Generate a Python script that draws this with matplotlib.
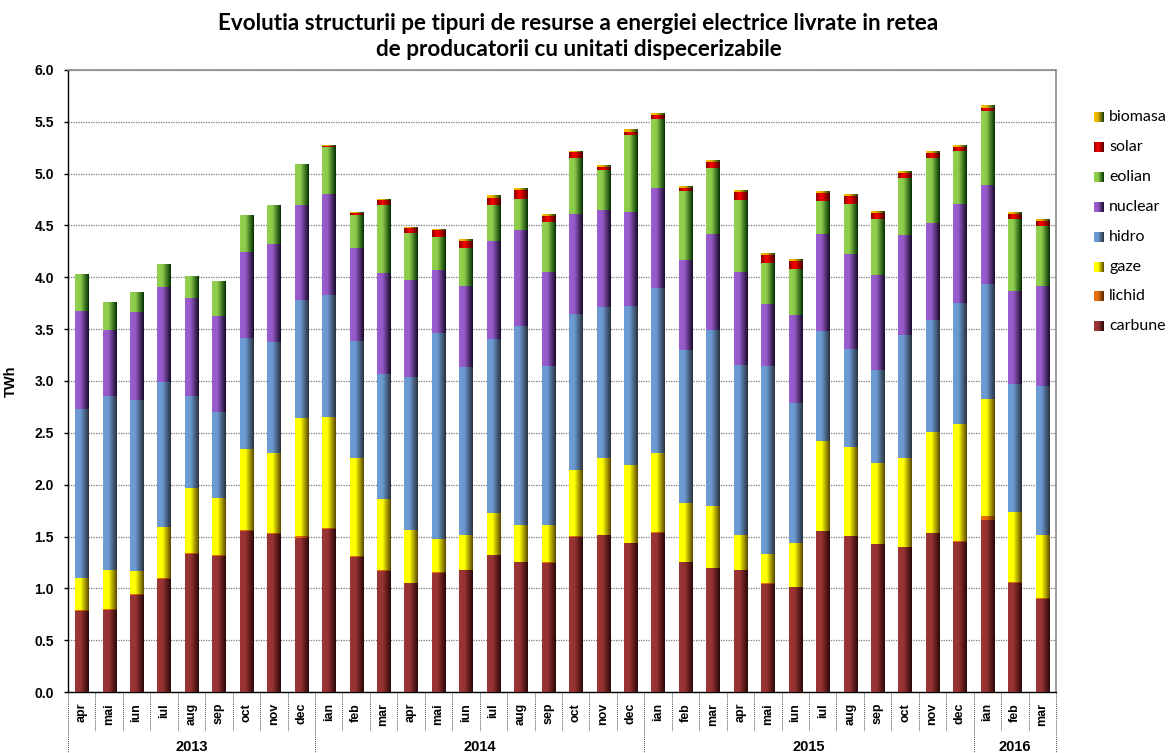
import numpy as np
import matplotlib
matplotlib.use("Agg")
import matplotlib.pyplot as plt
from matplotlib.colors import to_rgb
from matplotlib.transforms import blended_transform_factory

# ---------------- data ----------------
months = ['apr', 'mai', 'iun', 'iul', 'aug', 'sep', 'oct', 'nov', 'dec',
          'ian', 'feb', 'mar', 'apr', 'mai', 'iun', 'iul', 'aug', 'sep', 'oct', 'nov', 'dec',
          'ian', 'feb', 'mar', 'apr', 'mai', 'iun', 'iul', 'aug', 'sep', 'oct', 'nov', 'dec',
          'ian', 'feb', 'mar']
year_groups = [('2013', 9), ('2014', 12), ('2015', 12), ('2016', 3)]

carbune = [0.78, 0.79, 0.94, 1.09, 1.33, 1.31, 1.55, 1.52, 1.49,
           1.57, 1.30, 1.17, 1.05, 1.15, 1.175, 1.32, 1.25, 1.245, 1.495, 1.51, 1.435,
           1.53, 1.25, 1.195, 1.175, 1.045, 1.012, 1.552, 1.50, 1.425, 1.398, 1.53, 1.45,
           1.662, 1.05, 0.90]
lichid = [0.01, 0.01, 0.01, 0.01, 0.01, 0.01, 0.01, 0.01, 0.01,
          0.01, 0.01, 0.01, 0.005, 0.005, 0.005, 0.005, 0.005, 0.005, 0.005, 0.005, 0.005,
          0.01, 0.005, 0.005, 0.005, 0.005, 0.005, 0.005, 0.008, 0.006, 0.005, 0.006, 0.005,
          0.04, 0.008, 0.005]
gaze = [0.31, 0.38, 0.22, 0.49, 0.63, 0.55, 0.78, 0.78, 1.14,
        1.07, 0.95, 0.68, 0.51, 0.325, 0.335, 0.405, 0.355, 0.36, 0.645, 0.745, 0.745,
        0.765, 0.57, 0.59, 0.33, 0.285, 0.42, 0.865, 0.855, 0.778, 0.855, 0.973, 1.131,
        1.123, 0.681, 0.611]
hidro = [1.63, 1.68, 1.65, 1.40, 0.89, 0.83, 1.07, 1.07, 1.14,
         1.18, 1.13, 1.21, 1.475, 1.98, 1.62, 1.675, 1.92, 1.53, 1.50, 1.455, 1.535,
         1.59, 1.47, 1.70, 1.645, 1.81, 1.35, 1.065, 0.945, 0.90, 1.19, 1.078, 1.168,
         1.111, 1.232, 1.435]
nuclear = [0.945, 0.63, 0.85, 0.92, 0.94, 0.93, 0.83, 0.94, 0.92,
           0.97, 0.89, 0.97, 0.93, 0.615, 0.78, 0.945, 0.93, 0.91, 0.97, 0.935, 0.915,
           0.97, 0.875, 0.925, 0.895, 0.595, 0.85, 0.935, 0.92, 0.91, 0.96, 0.937, 0.952,
           0.953, 0.896, 0.965]
eolian = [0.35, 0.27, 0.19, 0.22, 0.21, 0.33, 0.35, 0.37, 0.39,
          0.46, 0.32, 0.66, 0.455, 0.31, 0.365, 0.345, 0.30, 0.48, 0.54, 0.39, 0.74,
          0.66, 0.66, 0.64, 0.70, 0.40, 0.44, 0.31, 0.48, 0.545, 0.555, 0.628, 0.514,
          0.717, 0.698, 0.575]
solar = [0.0, 0.0, 0.0, 0.0, 0.0, 0.0, 0.0, 0.0, 0.0,
         0.01, 0.02, 0.045, 0.05, 0.075, 0.07, 0.075, 0.08, 0.06, 0.057, 0.025, 0.024,
         0.037, 0.036, 0.057, 0.073, 0.073, 0.08, 0.085, 0.08, 0.052, 0.045, 0.045, 0.037,
         0.024, 0.048, 0.053]
biomasa = [0.0, 0.0, 0.0, 0.0, 0.0, 0.0, 0.0, 0.0, 0.0,
           0.005, 0.005, 0.008, 0.005, 0.005, 0.017, 0.02, 0.016, 0.016, 0.007, 0.016, 0.02,
           0.016, 0.017, 0.016, 0.016, 0.016, 0.016, 0.016, 0.016, 0.016, 0.016, 0.016, 0.016,
           0.02, 0.016, 0.016]

series_names = ['carbune', 'lichid', 'gaze', 'hidro', 'nuclear', 'eolian', 'solar', 'biomasa']
series_vals = [carbune, lichid, gaze, hidro, nuclear, eolian, solar, biomasa]

# gradient stops (left -> right) per series
grad_stops = {
    'carbune': ['#9B3636', '#993333', '#2A0808'],
    'lichid':  ['#E8720C', '#E46C0A', '#5A2604'],
    'gaze':    ['#FFFF00', '#FFFF00', '#5A4600'],
    'hidro':   ['#6E9DD6', '#6A98CF', '#28323C'],
    'nuclear': ['#9C5ED2', '#9558C8', '#160A28'],
    'eolian':  ['#92D050', '#8CCB4A', '#003000'],
    'solar':   ['#8A0000', '#FF0000', '#4A0000'],
    'biomasa': ['#FFC000', '#E0B000', '#0E3A0E'],
}


def make_grad(stops, n=96):
    t = np.linspace(0, 1, n)
    c = np.array([to_rgb(s) for s in stops])
    pos = [0.0, 0.40, 1.0]
    out = np.zeros((1, n, 3))
    for k in range(3):
        out[0, :, k] = np.interp(t, pos, c[:, k])
    return out


plt.rcParams['font.family'] = ['Liberation Sans', 'DejaVu Sans']

W, H = 1169, 753
fig = plt.figure(figsize=(W / 100, H / 100), dpi=100)
fig.patch.set_facecolor('white')

ax_l, ax_r, ax_t, ax_b = 68, 1056, 70, 692
ax = fig.add_axes([ax_l / W, 1 - ax_b / H, (ax_r - ax_l) / W, (ax_b - ax_t) / H])

x = np.arange(len(months))
bw = 0.48
bottom = np.zeros(len(months))
for name, vals in zip(series_names, series_vals):
    vals = np.array(vals, dtype=float)
    bars = ax.bar(x, vals, bw, bottom=bottom, color='none', edgecolor='none', zorder=2, label=name)
    g = make_grad(grad_stops[name])
    for rect in bars:
        h = rect.get_height()
        if h <= 0:
            continue
        x0 = rect.get_x()
        y0 = rect.get_y()
        ax.imshow(g, extent=(x0, x0 + rect.get_width(), y0, y0 + h), aspect='auto',
                  interpolation='bilinear', zorder=3)
    bottom += vals

ax.set_xlim(-0.5, len(months) - 0.5)
ax.set_ylim(0, 6.0)
ax.set_aspect('auto')
ax.set_yticks(np.arange(0, 6.01, 0.5))
ax.set_yticklabels([f'{v:.1f}' for v in np.arange(0, 6.01, 0.5)],
                   fontsize=10, fontweight='bold')
ax.yaxis.grid(True, color='#7a7a7a', linestyle=(0, (1, 1)), linewidth=0.9, zorder=0)
ax.set_axisbelow(True)
ax.tick_params(axis='y', length=3, width=1, color='black', pad=7)
ax.set_xticks(np.arange(-0.5, len(months), 1.0))
ax.set_xticklabels([])
ax.tick_params(axis='x', length=0)

for side in ['top', 'right']:
    ax.spines[side].set_color('#8a8a8a')
    ax.spines[side].set_linewidth(1.2)
for side in ['left', 'bottom']:
    ax.spines[side].set_color('black')
    ax.spines[side].set_linewidth(1.0)

ax.set_ylabel('TWh', fontsize=10.5, fontweight='bold', labelpad=12)

# month labels and separators
trans = blended_transform_factory(ax.transData, ax.transAxes)
axh = ax_b - ax_t
for i, m in enumerate(months):
    ax.text(i, -11 / axh, m, transform=trans, rotation=90, ha='center', va='top',
            fontsize=9, fontweight='bold', clip_on=False)

year_bounds = [-0.5]
acc = -0.5
for yname, n in year_groups:
    acc += n
    year_bounds.append(acc)
for b in np.arange(-0.5, len(months), 1.0):
    is_year = any(abs(b - yb) < 1e-6 for yb in year_bounds)
    y_end = -(H - ax_b) / axh if is_year else -39 / axh
    ax.plot([b, b], [0, y_end], transform=trans, color='#505050', lw=0.7,
            linestyle=(0, (1, 1)), clip_on=False, zorder=1)

start = -0.5
for yname, n in year_groups:
    ax.text(start + n / 2, -55 / axh, yname, transform=trans, ha='center', va='center',
            fontsize=10.5, fontweight='bold', clip_on=False)
    start += n

# title
fig.text(578 / W, 1 - 23 / H,
         'Evolutia structurii pe tipuri de resurse a energiei electrice livrate in retea',
         ha='center', va='center', fontsize=16.2, fontweight='bold', family=['Lato', 'DejaVu Sans'])
fig.text(579 / W, 1 - 50 / H,
         'de producatorii cu unitati dispecerizabile',
         ha='center', va='center', fontsize=16.2, fontweight='bold', family=['Lato', 'DejaVu Sans'])

# legend (drawn on overlay axes in pixel coordinates)
ov = fig.add_axes([0, 0, 1, 1], zorder=5)
ov.set_xlim(0, W)
ov.set_ylim(H, 0)
ov.axis('off')
leg_order = ['biomasa', 'solar', 'eolian', 'nuclear', 'hidro', 'gaze', 'lichid', 'carbune']
leg_y0, leg_dy = 117, 29.9
for k, name in enumerate(leg_order):
    yc = leg_y0 + k * leg_dy
    g = make_grad(grad_stops[name])
    ov.imshow(g, extent=(1094, 1104, yc + 5, yc - 5), aspect='auto', interpolation='bilinear')
    ov.text(1109, yc, name, ha='left', va='center', fontsize=11.5, family=['Lato', 'DejaVu Sans'])
ov.set_xlim(0, W)
ov.set_ylim(H, 0)

fig.savefig('out.png', dpi=100, facecolor='white')
